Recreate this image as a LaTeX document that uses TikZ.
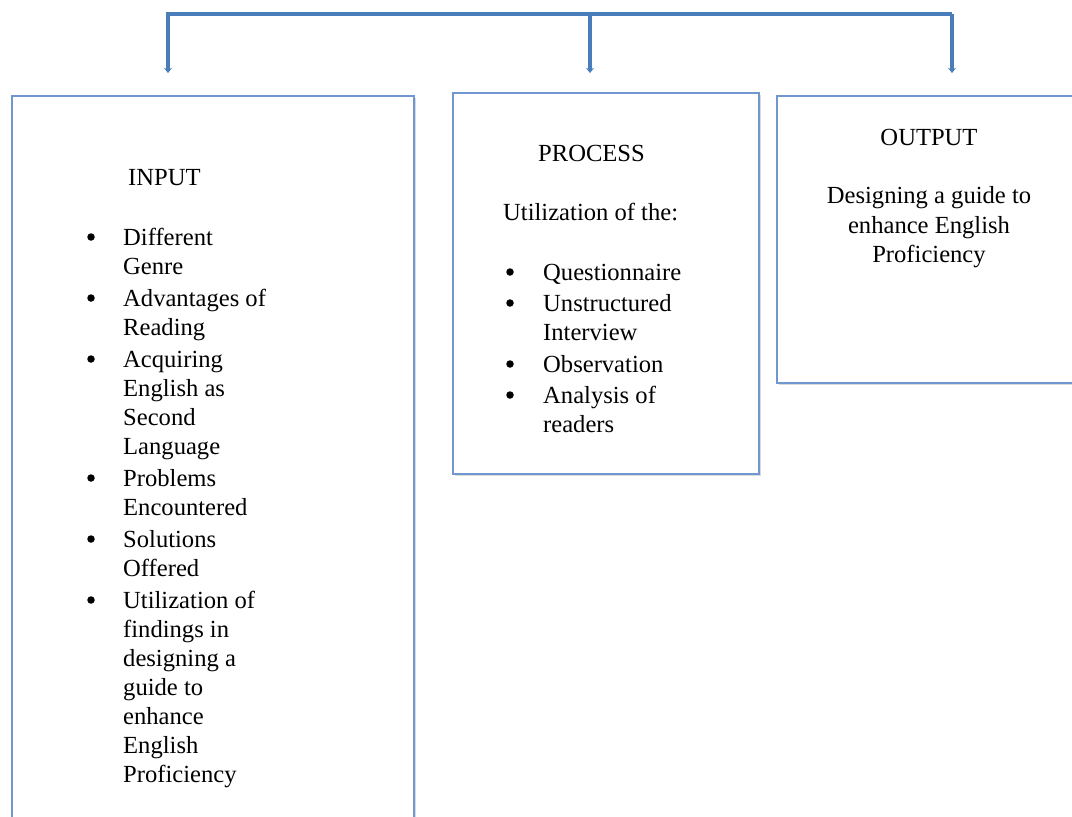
\documentclass[tikz,border=0pt]{standalone}
\usepackage{fontspec}
\setmainfont{Liberation Serif}
\usetikzlibrary{positioning,arrows.meta,shadows}

\definecolor{barblue}{HTML}{4A7EBB}
\definecolor{boxblue}{HTML}{7097CF}

\begin{document}
\begin{tikzpicture}[x=1pt,y=-1pt,
  font=\fontsize{24.6pt}{29pt}\selectfont,
  box/.style={draw=boxblue,line width=1.5pt,fill=white,anchor=north west,inner sep=0pt,
    drop shadow={shadow xshift=2pt,shadow yshift=-2pt,opacity=0.25,fill=black!60}},
  bar/.style={draw=barblue,line width=3.5pt,line cap=rect},
  feed/.style={draw=barblue,line width=3.5pt,-{Stealth[length=5pt,width=8pt]}},
  txt/.style={anchor=base west,inner sep=0pt},
  mid/.style={anchor=base,inner sep=0pt},
  dot/.style={circle,fill=black,inner sep=0pt,minimum size=7.5pt}]
\useasboundingbox (0,0) rectangle (1072,817);
\clip (0,0) rectangle (1072,817);

% boxes
\node[box,minimum width=402,minimum height=760] (inbox) at (11,95) {};
\node[box,minimum width=306,minimum height=381] (procbox) at (452,92) {};
\node[box,minimum width=320,minimum height=287] (outbox) at (776,95) {};

% top connector
\coordinate (barl) at (168,14);
\coordinate (barm) at (590,14);
\coordinate (barr) at (950,14);
\coordinate (tipin) at (168,73);
\coordinate (tipproc) at (590,73);
\coordinate (tipout) at (952,73);
\draw[bar] (barl) -- (barr);
\draw[feed] (barl) -- (tipin);
\draw[feed] (barm) -- (tipproc);
\draw[feed] ([xshift=2pt]barr) -- (tipout);

% input
\node[txt] (inhead) at (128,185) {INPUT};
\node[dot] (ind1) at (91,237) {};
\node[txt] (in1) at (123,245) {Different};
\node[txt] (in2) at (123,274) {Genre};
\node[dot] (ind2) at (91,298) {};
\node[txt] (in3) at (123,306) {Advantages of};
\node[txt] (in4) at (123,335) {Reading};
\node[dot] (ind3) at (91,359) {};
\node[txt] (in5) at (123,367) {Acquiring};
\node[txt] (in6) at (123,396) {English as};
\node[txt] (in7) at (123,425) {Second};
\node[txt] (in8) at (123,454) {Language};
\node[dot] (ind4) at (91,478) {};
\node[txt] (in9) at (123,486) {Problems};
\node[txt] (in10) at (123,515) {Encountered};
\node[dot] (ind5) at (91,539) {};
\node[txt] (in11) at (123,547) {Solutions};
\node[txt] (in12) at (123,576) {Offered};
\node[dot] (ind6) at (91,600) {};
\node[txt] (in13) at (123,608) {Utilization of};
\node[txt] (in14) at (123,637) {findings in};
\node[txt] (in15) at (123,666) {designing a};
\node[txt] (in16) at (123,695) {guide to};
\node[txt] (in17) at (123,724) {enhance};
\node[txt] (in18) at (123,753) {English};
\node[txt] (in19) at (123,782) {Proficiency};

% process
\node[txt] (prochead) at (538,161) {PROCESS};
\node[txt] (procsub) at (503,220) {Utilization of the:};
\node[dot] (procd1) at (510,272) {};
\node[txt] (proc1) at (543,280) {Questionnaire};
\node[dot] (procd2) at (510,303) {};
\node[txt] (proc2) at (543,311) {Unstructured};
\node[txt] (proc3) at (543,340) {Interview};
\node[dot] (procd3) at (510,364) {};
\node[txt] (proc4) at (543,372) {Observation};
\node[dot] (procd4) at (510,395) {};
\node[txt] (proc5) at (543,403) {Analysis of};
\node[txt] (proc6) at (543,432) {readers};

% output
\node[mid] (outhead) at (929,145) {OUTPUT};
\node[mid] (out1) at (929,203) {Designing a guide to};
\node[mid] (out2) at (929,233) {enhance English};
\node[mid] (out3) at (929,262) {Proficiency};
\end{tikzpicture}
\end{document}
